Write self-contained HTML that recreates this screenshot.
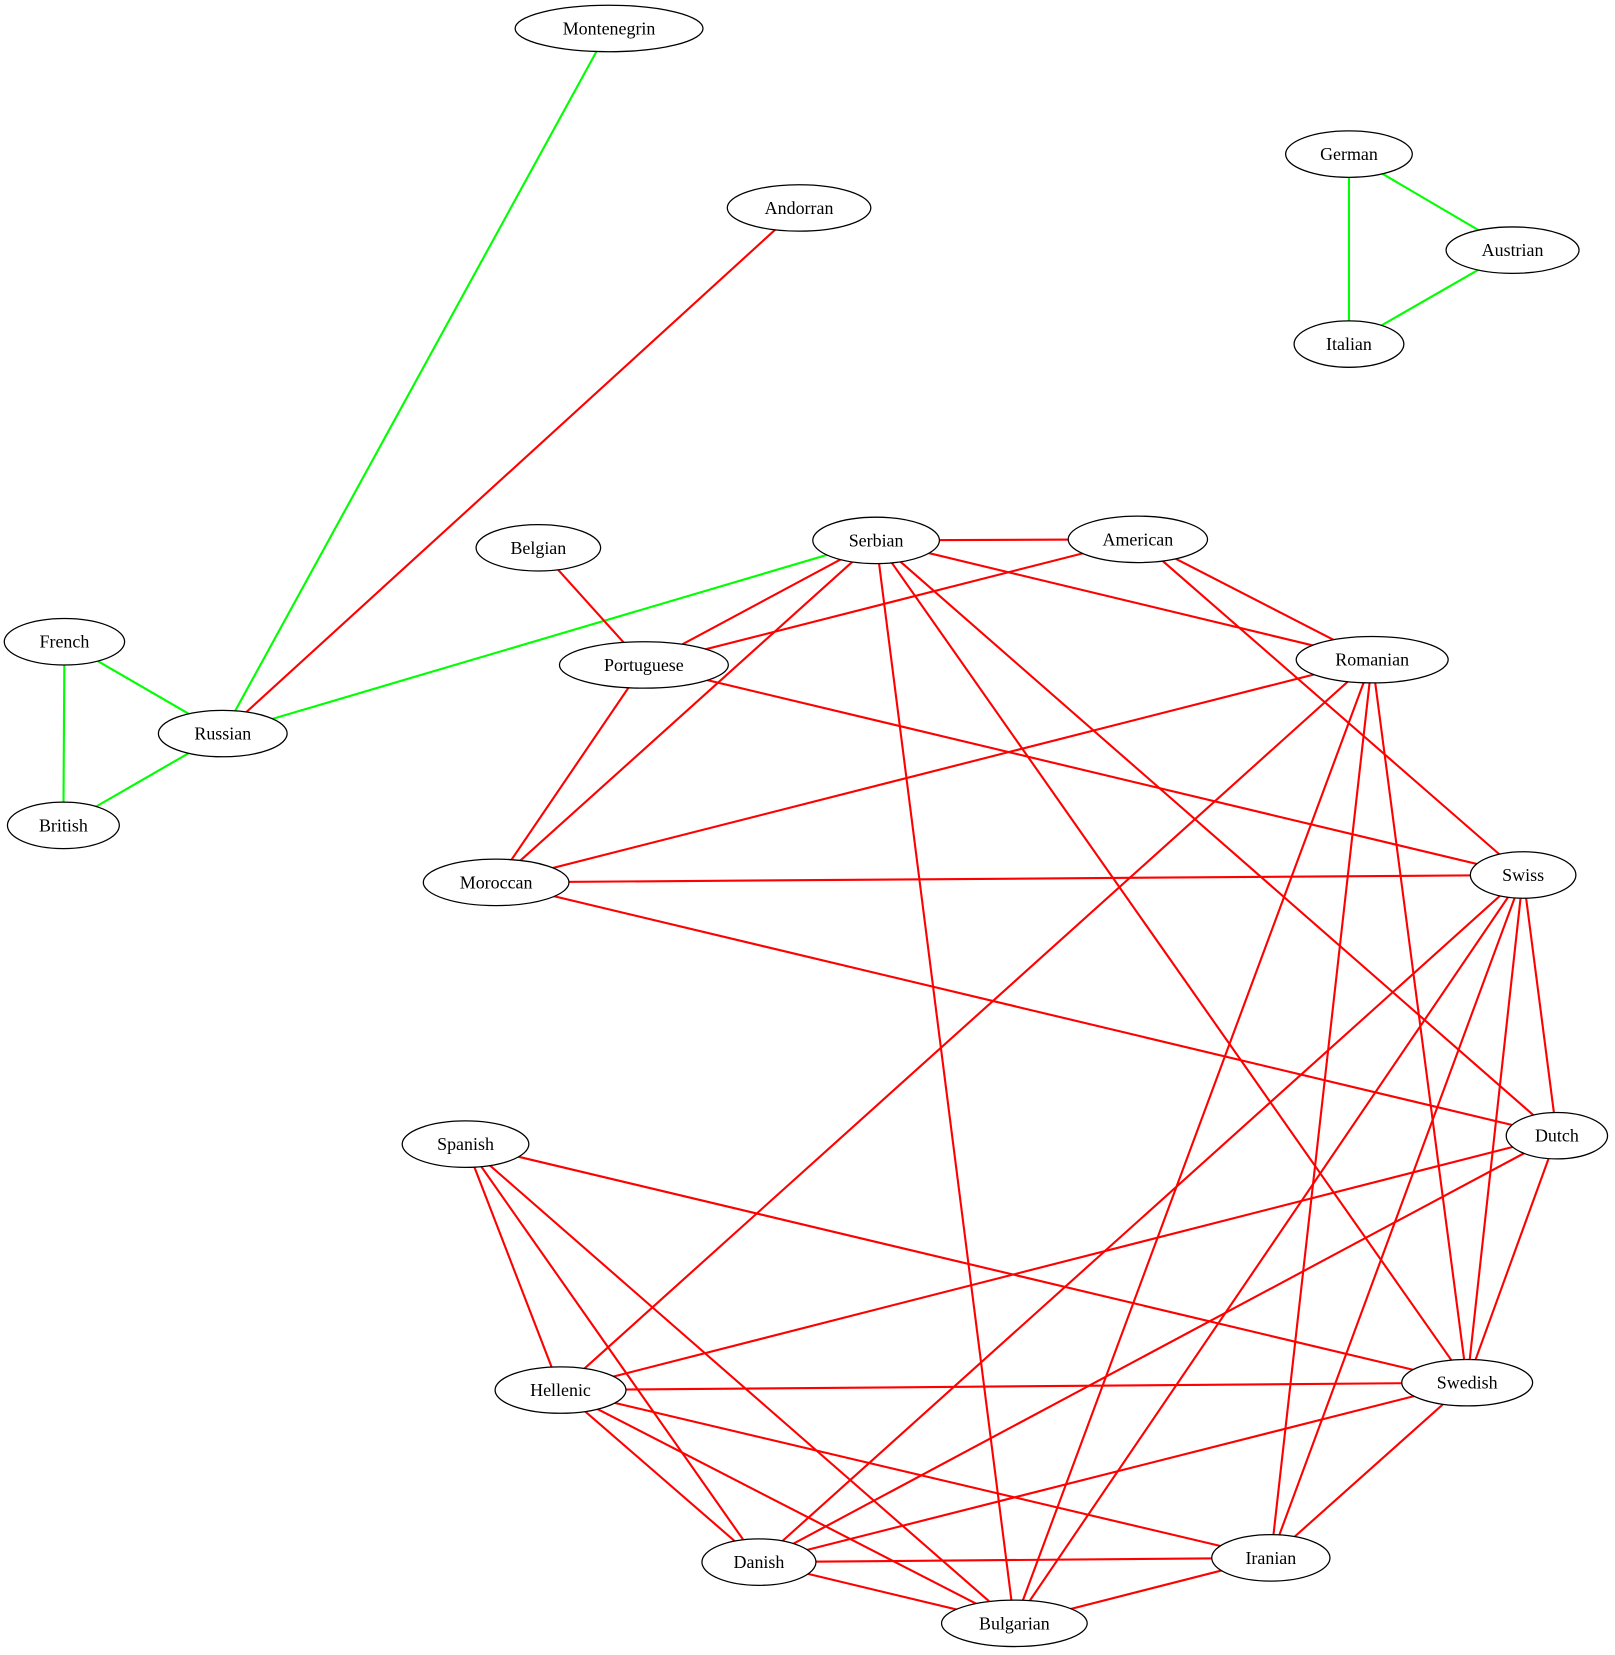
<!DOCTYPE html>
<html><head><meta charset="utf-8"><style>html,body{margin:0;padding:0;background:#fff}svg{display:block}</style></head>
<body>
<svg xmlns="http://www.w3.org/2000/svg" width="1615" height="1655" viewBox="0 0 1530 1568">
<g stroke-width="2" fill="none">
<g stroke="#00ff00">
<line x1="577" y1="27" x2="211" y2="695"/>
<line x1="830" y1="512" x2="211" y2="695"/>
<line x1="61" y1="608" x2="211" y2="695"/>
<line x1="61" y1="608" x2="60" y2="782"/>
<line x1="211" y1="695" x2="60" y2="782"/>
<line x1="1278" y1="146" x2="1433" y2="237"/>
<line x1="1278" y1="146" x2="1278" y2="326"/>
<line x1="1433" y1="237" x2="1278" y2="326"/>
</g>
<g stroke="#ff0000">
<line x1="757" y1="197" x2="211" y2="695"/>
<line x1="510" y1="519" x2="610" y2="630"/>
<line x1="830" y1="512" x2="1078" y2="511"/>
<line x1="830" y1="512" x2="610" y2="630"/>
<line x1="830" y1="512" x2="1300" y2="625"/>
<line x1="830" y1="512" x2="470" y2="836"/>
<line x1="830" y1="512" x2="961" y2="1538"/>
<line x1="830" y1="512" x2="1390" y2="1310"/>
<line x1="830" y1="512" x2="1475" y2="1076"/>
<line x1="1078" y1="511" x2="610" y2="630"/>
<line x1="1078" y1="511" x2="1300" y2="625"/>
<line x1="1078" y1="511" x2="1443" y2="829"/>
<line x1="610" y1="630" x2="470" y2="836"/>
<line x1="610" y1="630" x2="1443" y2="829"/>
<line x1="1300" y1="625" x2="470" y2="836"/>
<line x1="1300" y1="625" x2="531" y2="1317"/>
<line x1="1300" y1="625" x2="961" y2="1538"/>
<line x1="1300" y1="625" x2="1204" y2="1476"/>
<line x1="1300" y1="625" x2="1390" y2="1310"/>
<line x1="470" y1="836" x2="1443" y2="829"/>
<line x1="470" y1="836" x2="1475" y2="1076"/>
<line x1="1443" y1="829" x2="719" y2="1480"/>
<line x1="1443" y1="829" x2="961" y2="1538"/>
<line x1="1443" y1="829" x2="1204" y2="1476"/>
<line x1="1443" y1="829" x2="1390" y2="1310"/>
<line x1="1443" y1="829" x2="1475" y2="1076"/>
<line x1="1475" y1="1076" x2="531" y2="1317"/>
<line x1="1475" y1="1076" x2="719" y2="1480"/>
<line x1="1475" y1="1076" x2="1390" y2="1310"/>
<line x1="441" y1="1084" x2="1390" y2="1310"/>
<line x1="441" y1="1084" x2="531" y2="1317"/>
<line x1="441" y1="1084" x2="719" y2="1480"/>
<line x1="441" y1="1084" x2="961" y2="1538"/>
<line x1="531" y1="1317" x2="1390" y2="1310"/>
<line x1="531" y1="1317" x2="719" y2="1480"/>
<line x1="531" y1="1317" x2="961" y2="1538"/>
<line x1="531" y1="1317" x2="1204" y2="1476"/>
<line x1="1390" y1="1310" x2="719" y2="1480"/>
<line x1="1390" y1="1310" x2="1204" y2="1476"/>
<line x1="719" y1="1480" x2="1204" y2="1476"/>
<line x1="719" y1="1480" x2="961" y2="1538"/>
<line x1="1204" y1="1476" x2="961" y2="1538"/>
</g>
</g>
<g fill="#fff" stroke="#000" stroke-width="1.2">
<ellipse cx="577" cy="27" rx="89" ry="22"/>
<ellipse cx="757" cy="197" rx="68" ry="22"/>
<ellipse cx="1278" cy="146" rx="60" ry="22"/>
<ellipse cx="1433" cy="237" rx="63" ry="22"/>
<ellipse cx="1278" cy="326" rx="52" ry="22"/>
<ellipse cx="510" cy="519" rx="59" ry="22"/>
<ellipse cx="830" cy="512" rx="60" ry="22"/>
<ellipse cx="1078" cy="511" rx="66" ry="22"/>
<ellipse cx="61" cy="608" rx="57" ry="22"/>
<ellipse cx="610" cy="630" rx="80" ry="22"/>
<ellipse cx="1300" cy="625" rx="72" ry="22"/>
<ellipse cx="211" cy="695" rx="61" ry="22"/>
<ellipse cx="60" cy="782" rx="53" ry="22"/>
<ellipse cx="470" cy="836" rx="69" ry="22"/>
<ellipse cx="1443" cy="829" rx="50" ry="22"/>
<ellipse cx="1475" cy="1076" rx="48" ry="22"/>
<ellipse cx="441" cy="1084" rx="60" ry="22"/>
<ellipse cx="531" cy="1317" rx="62" ry="22"/>
<ellipse cx="1390" cy="1310" rx="62" ry="22"/>
<ellipse cx="719" cy="1480" rx="54" ry="22"/>
<ellipse cx="1204" cy="1476" rx="56" ry="22"/>
<ellipse cx="961" cy="1538" rx="69" ry="22"/>
</g>
<g font-family="Liberation Serif, serif" font-size="17" text-anchor="middle" fill="#000" dominant-baseline="central">
<text x="577" y="27">Montenegrin</text>
<text x="757" y="197">Andorran</text>
<text x="1278" y="146">German</text>
<text x="1433" y="237">Austrian</text>
<text x="1278" y="326">Italian</text>
<text x="510" y="519">Belgian</text>
<text x="830" y="512">Serbian</text>
<text x="1078" y="511">American</text>
<text x="61" y="608">French</text>
<text x="610" y="630">Portuguese</text>
<text x="1300" y="625">Romanian</text>
<text x="211" y="695">Russian</text>
<text x="60" y="782">British</text>
<text x="470" y="836">Moroccan</text>
<text x="1443" y="829">Swiss</text>
<text x="1475" y="1076">Dutch</text>
<text x="441" y="1084">Spanish</text>
<text x="531" y="1317">Hellenic</text>
<text x="1390" y="1310">Swedish</text>
<text x="719" y="1480">Danish</text>
<text x="1204" y="1476">Iranian</text>
<text x="961" y="1538">Bulgarian</text>
</g>
</svg>
</body></html>
